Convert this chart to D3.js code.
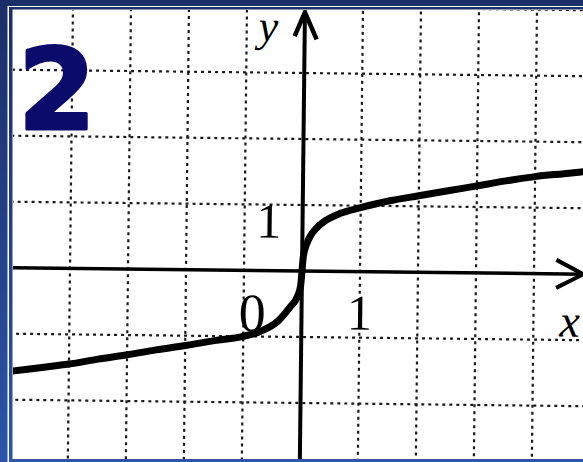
<!DOCTYPE html>
<html>
<head>
<meta charset="utf-8">
<script src="https://cdn.jsdelivr.net/npm/d3@7"></script>
<style>
  html, body { margin: 0; padding: 0; background: #fff; }
  svg { display: block; }
</style>
</head>
<body>
<script>
// grid / tick values (units of the hand drawn chart)
var xTicks = [-4, -3, -2, -1, 0, 1, 2, 3, 4];
var yTicks = [-3, -2, -1, 0, 1, 2, 3, 4];

// curve, left to right
var curveX = [-5, -4.5, -4, -3.5, -3, -2.5, -2, -1.5, -1, -0.7, -0.4, -0.2, -0.08, -0.02, 0,
              0.02, 0.08, 0.15, 0.25, 0.4, 0.65, 1, 1.5, 2, 2.5, 3, 3.5, 4, 4.5, 5];
var curveY = [-1.57, -1.51, -1.45, -1.37, -1.30, -1.22, -1.15, -1.07, -1.00, -0.92, -0.76, -0.55, -0.40, -0.22, 0,
              0.22, 0.42, 0.55, 0.66, 0.77, 0.88, 0.97, 1.08, 1.16, 1.24, 1.32, 1.40, 1.47, 1.52, 1.57];

var axisLabels = ['x', 'y'];
var tickLabels = ['0', '1', '1'];
var slideNumber = '2';

var W = 583, H = 462;

var svg = d3.select('body').append('svg')
  .attr('width', W)
  .attr('height', H);

svg.append('rect').attr('width', W).attr('height', H).attr('fill', '#fff');

var defs = svg.append('defs');
var grad = defs.append('linearGradient')
  .attr('id', 'sideBlue')
  .attr('x1', 0).attr('y1', 0).attr('x2', 0).attr('y2', 1);
grad.append('stop').attr('offset', '0%').attr('stop-color', '#1b2d66');
grad.append('stop').attr('offset', '100%').attr('stop-color', '#2b55a8');

defs.append('clipPath').attr('id', 'inner')
  .append('rect').attr('x', 13).attr('y', 10).attr('width', W - 13).attr('height', 449);

var xScale = d3.scaleLinear().domain([-4, 4]).range([70, 534]);
var yScale = d3.scaleLinear().domain([0, 4]).range([271, 7]);

// the scan is a little tilted
var chart = svg.append('g').attr('clip-path', 'url(#inner)')
  .append('g')
  .attr('transform', `rotate(0.65, ${xScale(0)}, ${yScale(0)})`);

// dotted grid
chart.append('g').selectAll('line.v')
  .data(xTicks)
  .enter().append('line')
  .attr('x1', d => xScale(d)).attr('x2', d => xScale(d))
  .attr('y1', yScale(-3.2)).attr('y2', yScale(4.3))
  .attr('stroke', '#1a1a1a')
  .attr('stroke-width', 2.2)
  .attr('stroke-dasharray', '3,4');

chart.append('g').selectAll('line.h')
  .data(yTicks)
  .enter().append('line')
  .attr('x1', xScale(-5.4)).attr('x2', xScale(5.4))
  .attr('y1', d => yScale(d)).attr('y2', d => yScale(d))
  .attr('stroke', '#1a1a1a')
  .attr('stroke-width', 2.2)
  .attr('stroke-dasharray', '3,4');

// axes
var xTip = xScale(4.85), yTip = yScale(3.92);

chart.append('line')
  .attr('x1', xScale(-5.4)).attr('x2', xTip)
  .attr('y1', yScale(0)).attr('y2', yScale(0))
  .attr('stroke', '#000').attr('stroke-width', 3.5);

chart.append('path')
  .attr('d', `M${xTip - 27},${yScale(0) - 14} L${xTip},${yScale(0)} L${xTip - 27},${yScale(0) + 14}`)
  .attr('fill', 'none').attr('stroke', '#000').attr('stroke-width', 4);

chart.append('line')
  .attr('x1', xScale(0)).attr('x2', xScale(0))
  .attr('y1', yScale(-3.2)).attr('y2', yTip)
  .attr('stroke', '#000').attr('stroke-width', 4);

chart.append('path')
  .attr('d', `M${xScale(0) - 10},${yTip + 24} L${xScale(0)},${yTip} L${xScale(0) + 12},${yTip + 27}`)
  .attr('fill', 'none').attr('stroke', '#000').attr('stroke-width', 4.5);

// the curve
var pts = curveX.map((x, i) => [x, curveY[i]]);
var line = d3.line()
  .x(d => xScale(d[0]))
  .y(d => yScale(d[1]))
  .curve(d3.curveMonotoneX);

chart.append('path')
  .datum(pts)
  .attr('d', line)
  .attr('fill', 'none')
  .attr('stroke', '#000')
  .attr('stroke-width', 7)
  .attr('stroke-linecap', 'round');

// labels
var serif = '"Liberation Serif", "DejaVu Serif", serif';

chart.append('text')
  .attr('x', xScale(0) - 46).attr('y', yScale(3.48))
  .attr('font-family', serif).attr('font-style', 'italic')
  .attr('font-size', 44).attr('fill', '#000')
  .text(axisLabels[1]);

chart.append('text')
  .attr('x', xScale(4.45)).attr('y', yScale(-0.95))
  .attr('font-family', serif).attr('font-style', 'italic')
  .attr('font-size', 46).attr('fill', '#000')
  .text(axisLabels[0]);

chart.append('text')
  .attr('x', xScale(-0.85)).attr('y', yScale(-0.92))
  .attr('text-anchor', 'middle')
  .attr('font-family', serif).attr('font-size', 54).attr('fill', '#000')
  .text(tickLabels[0]);

chart.append('text')
  .attr('x', xScale(1)).attr('y', yScale(-0.88))
  .attr('text-anchor', 'middle')
  .attr('font-family', serif).attr('font-size', 50).attr('fill', '#000')
  .text(tickLabels[1]);

chart.append('text')
  .attr('x', xScale(-0.58)).attr('y', yScale(0.5))
  .attr('text-anchor', 'middle')
  .attr('font-family', serif).attr('font-size', 50).attr('fill', '#000')
  .text(tickLabels[2]);

// slide frame
svg.append('rect').attr('x', 0).attr('y', 0).attr('width', W).attr('height', 6).attr('fill', '#1b2e67');
svg.append('rect').attr('x', 9).attr('y', 7).attr('width', W - 9).attr('height', 2.5).attr('fill', '#1b2e67');
svg.append('rect').attr('x', 0).attr('y', 0).attr('width', 7.5).attr('height', H).attr('fill', 'url(#sideBlue)');
svg.append('rect').attr('x', 9).attr('y', 7).attr('width', 3.5).attr('height', H - 7).attr('fill', 'url(#sideBlue)');
svg.append('rect').attr('x', 9).attr('y', 459).attr('width', W - 9).attr('height', 3).attr('fill', '#2f55a6');

// big slide number
svg.append('text')
  .attr('x', 57).attr('y', 129)
  .attr('text-anchor', 'middle')
  .attr('font-family', '"DejaVu Sans", sans-serif')
  .attr('font-weight', 'bold')
  .attr('font-size', 112)
  .attr('fill', '#0b0b6c')
  .attr('stroke', '#0b0b6c')
  .attr('stroke-width', 3)
  .attr('stroke-linejoin', 'round')
  .text(slideNumber);
</script>
</body>
</html>
